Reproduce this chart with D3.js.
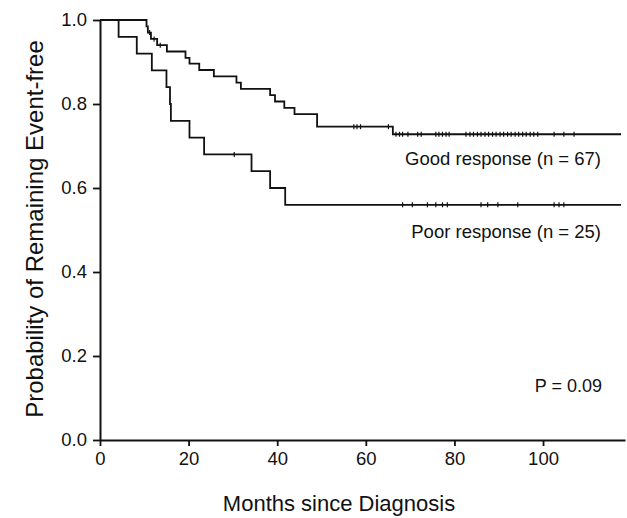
<!DOCTYPE html>
<html>
<head>
<meta charset="utf-8">
<script src="https://cdn.jsdelivr.net/npm/d3@7"></script>
<style>
  body { margin: 0; background: #fff; }
  svg { display: block; font-family: "Liberation Sans", Arial, Helvetica, sans-serif; }
</style>
</head>
<body>
<svg id="km"></svg>
<script>
// Kaplan-Meier steps (months, survival)
const goodTimes = [0, 10.5, 10.8, 11.5, 12.9, 15.1, 19.3, 20.2, 22.4, 25.7, 30.8, 31.8, 38.4, 39.5, 41.6, 43.9, 49.0, 66.1, 117.6];
const goodSurv  = [1, 0.985, 0.970, 0.955, 0.940, 0.925, 0.910, 0.896, 0.881, 0.866, 0.851, 0.836, 0.821, 0.806, 0.791, 0.776, 0.746, 0.728, 0.728];
const goodCensor = [11.2, 12.2, 13.6, 57.3, 58.0, 58.8, 65.1, 66.8, 67.6, 68.3, 69.5, 71.7, 72.5,
  75.8, 76.5, 77.3, 78.1, 78.8, 82.6, 83.5, 84.3, 85.2, 86.0, 86.9, 87.7, 88.6, 89.4, 90.3,
  91.1, 92.0, 92.8, 93.7, 94.5, 95.4, 96.2, 97.1, 97.9, 98.8, 102.5, 104.7, 107.0];

const poorTimes = [0, 4.2, 8.3, 11.7, 15.0, 15.8, 16.0, 20.2, 23.5, 34.2, 38.4, 41.8, 117.6];
const poorSurv  = [1, 0.96, 0.92, 0.88, 0.84, 0.80, 0.76, 0.72, 0.68, 0.64, 0.60, 0.56, 0.56];
const poorCensor = [30.3, 68.3, 70.5, 73.9, 75.8, 77.3, 78.4, 86.0, 87.5, 89.8, 94.3, 102.5, 103.6, 104.7];

const xTicks = [0, 20, 40, 60, 80, 100];
const yTicks = [0, 0.2, 0.4, 0.6, 0.8, 1.0];

const W = 627, H = 518;
const svg = d3.select("#km").attr("width", W).attr("height", H);

const x = d3.scaleLinear().domain([0, 118.5]).range([100, 625]);
const y = d3.scaleLinear().domain([0, 1]).range([440, 20]);

const ink = "#111";

// Axes
const xAxis = svg.append("g")
  .attr("transform", `translate(0,${y(0)})`)
  .call(d3.axisBottom(x).tickValues(xTicks).tickSize(6).tickSizeOuter(0).tickPadding(6));
const yAxis = svg.append("g")
  .attr("transform", `translate(${x(0)},0)`)
  .call(d3.axisLeft(y).tickValues(yTicks).tickFormat(d3.format(".1f")).tickSize(7).tickSizeOuter(0).tickPadding(6));

[xAxis, yAxis].forEach(a => {
  a.select(".domain").attr("stroke", ink).attr("stroke-width", 2);
  a.selectAll(".tick line").attr("stroke", ink).attr("stroke-width", 1.8);
  a.selectAll(".tick text").attr("fill", ink).style("font-size", "18.5px");
});

// Curves
const line = d3.line()
  .x(d => x(d[0]))
  .y(d => y(d[1]))
  .curve(d3.curveStepAfter);

function survAt(times, surv, t) {
  const i = d3.bisectRight(times, t) - 1;
  return surv[Math.max(0, i)];
}

function drawCurve(times, surv, censor) {
  svg.append("path")
    .datum(d3.zip(times, surv))
    .attr("fill", "none")
    .attr("stroke", ink)
    .attr("stroke-width", 1.8)
    .attr("d", line);
  svg.append("g")
    .selectAll("line")
    .data(censor)
    .join("line")
    .attr("x1", d => x(d)).attr("x2", d => x(d))
    .attr("y1", d => y(survAt(times, surv, d)) - 2.5)
    .attr("y2", d => y(survAt(times, surv, d)) + 2.5)
    .attr("stroke", ink)
    .attr("stroke-width", 1.2);
}

drawCurve(goodTimes, goodSurv, goodCensor);
drawCurve(poorTimes, poorSurv, poorCensor);

// Labels
svg.append("text")
  .attr("x", 601).attr("y", 165)
  .attr("text-anchor", "end")
  .attr("fill", ink)
  .style("font-size", "18.5px")
  .text("Good response (n = 67)");

svg.append("text")
  .attr("x", 601).attr("y", 238)
  .attr("text-anchor", "end")
  .attr("fill", ink)
  .style("font-size", "18.5px")
  .text("Poor response (n = 25)");

svg.append("text")
  .attr("x", 602).attr("y", 392)
  .attr("text-anchor", "end")
  .attr("fill", ink)
  .style("font-size", "18px")
  .text("P = 0.09");

svg.append("text")
  .attr("x", 339).attr("y", 511)
  .attr("text-anchor", "middle")
  .attr("fill", ink)
  .style("font-size", "22px")
  .text("Months since Diagnosis");

svg.append("text")
  .attr("transform", `translate(43,229) rotate(-90)`)
  .attr("text-anchor", "middle")
  .attr("fill", ink)
  .style("font-size", "24px")
  .text("Probability of Remaining Event-free");
</script>
</body>
</html>
